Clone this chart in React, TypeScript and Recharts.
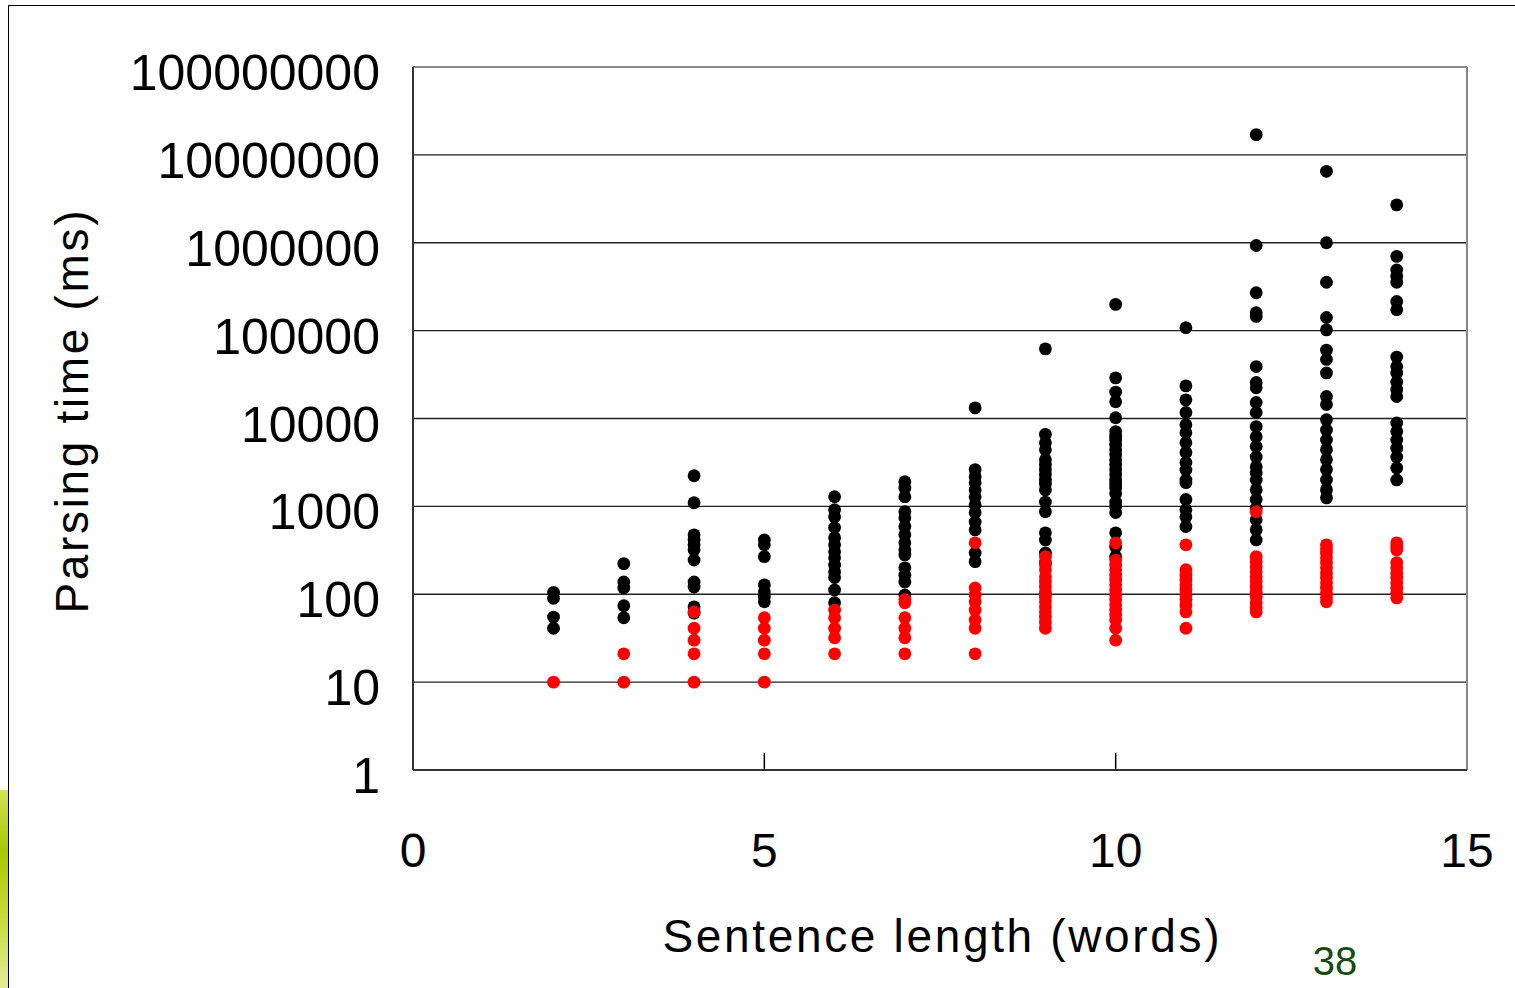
import React from "react";
import { CartesianGrid, ReferenceLine, Scatter, ScatterChart, XAxis, YAxis, ZAxis } from "recharts";

// sentence lengths (words) that have measurements
const lengths = [2, 3, 4, 5, 6, 7, 8, 9, 10, 11, 12, 13, 14];

// parsing time (ms), black dots, one list per sentence length
const baselineTimes: number[][] = [
  [105, 90, 55, 41],
  [223, 138, 118, 74, 54],
  [2230, 1100, 475, 415, 365, 320, 245, 138, 121, 72, 61],
  [415, 365, 268, 128, 107, 93, 82],
  [1290, 915, 760, 575, 440, 365, 305, 260, 215, 180, 155, 112, 80],
  [1910, 1620, 1290, 870, 740, 590, 475, 385, 320, 280, 200, 165, 138, 98],
  [13200, 2620, 2180, 1860, 1540, 1290, 1040, 850, 665, 540, 295, 235],
  [62000, 6600, 5300, 4400, 3400, 2620, 2000, 1540, 1120, 870, 500, 415, 295, 229, 3000, 2300, 1800],
  [199000, 29000, 20000, 15500, 10200, 7100, 6300, 5700, 5000, 4400, 3900, 3400, 3000, 2620, 2300, 2000, 1800, 1620, 1400, 1120, 1000, 850, 500, 345, 268],
  [108000, 23500, 16300, 11700, 8500, 6900, 5300, 4100, 3150, 2600, 2000, 1860, 1200, 915, 760, 590],
  [17000000, 930000, 270000, 160000, 145000, 39000, 25700, 22400, 15200, 11700, 8100, 6200, 4800, 3650, 2830, 2400, 2000, 1540, 1200, 950, 705, 540, 415],
  [6500000, 1000000, 355000, 141000, 102000, 60000, 47000, 33000, 17800, 14400, 9700, 7400, 5700, 4400, 3400, 2620, 2000, 1540, 1250],
  [2700000, 700000, 490000, 415000, 355000, 215000, 173000, 50000, 39000, 33000, 26000, 21300, 17800, 8900, 7100, 5700, 4600, 3650, 2740, 2000],
];

// parsing time (ms), red dots
const improvedTimes: number[][] = [
  [10],
  [21, 10],
  [63, 41, 30, 21, 10],
  [54, 41, 30, 21, 10],
  [66, 54, 41, 32, 21],
  [87, 80, 54, 41, 32, 21],
  [385, 118, 98, 82, 66, 51, 41, 21],
  [268, 220, 190, 158, 140, 121, 105, 93, 82, 72, 63, 55, 48, 41],
  [385, 245, 215, 190, 165, 145, 128, 112, 98, 87, 76, 66, 58, 51, 41, 30],
  [365, 190, 165, 145, 128, 112, 98, 87, 75, 63, 41],
  [870, 268, 235, 205, 180, 158, 140, 121, 105, 93, 80, 70, 63],
  [365, 330, 295, 260, 229, 200, 175, 155, 135, 118, 104, 92, 82],
  [385, 350, 320, 229, 200, 175, 155, 135, 118, 104, 91],
];

const xTicks = [0, 5, 10, 15];
const yTicks = [1, 10, 100, 1000, 10000, 100000, 1000000, 10000000, 100000000];

const FONT = "'Liberation Sans', Arial, sans-serif";

const toPoints = (lists: number[][]) =>
  lists.flatMap((times, i) => times.map((t) => ({ len: lengths[i], ms: t, s: 1 })));

const baselineData = toPoints(baselineTimes);
const improvedData = toPoints(improvedTimes);

function XTick({ x, y, payload }: any) {
  const v = payload.value;
  return (
    <g>
      {v > 0 && v < 15 && <line x1={x} x2={x} y1={y} y2={y - 17} stroke="#000" strokeWidth={1.5} />}
      <text x={x} y={y + 97} textAnchor="middle" fontSize={48} fontFamily={FONT} fill="#000">
        {v}
      </text>
    </g>
  );
}

function YTick({ x, y, payload }: any) {
  return (
    <text x={x} y={y + 23} textAnchor="end" fontSize={50} fontFamily={FONT} fill="#000">
      {String(payload.value)}
    </text>
  );
}

export default function App() {
  return (
    <div style={{ position: "absolute", left: 0, top: 0, width: 1515, height: 988, background: "#fff", overflow: "hidden" }}>
      <div
        style={{
          position: "absolute",
          left: 0,
          top: 790,
          width: 8,
          height: 198,
          background: "linear-gradient(to bottom, #d4e35a, #a6c700 30%, #c2d92e 60%, #e0ec9a)",
        }}
      />
      <div
        style={{
          position: "absolute",
          left: 8,
          top: 5,
          width: 1520,
          height: 1000,
          borderTop: "1.5px solid #000",
          borderLeft: "1.5px solid #000",
        }}
      />
      <div style={{ position: "absolute", left: 0, top: 0 }}>
        <ScatterChart width={1515} height={988} margin={{ top: 67, right: 48, bottom: 0, left: 0 }}>
          <CartesianGrid vertical={false} stroke="#222" strokeWidth={1.3} />
          <XAxis
            type="number"
            dataKey="len"
            domain={[0, 15]}
            ticks={xTicks}
            height={218}
            tickSize={0}
            tickMargin={0}
            tickLine={false}
            tick={<XTick />}
            axisLine={{ stroke: "#333", strokeWidth: 2 }}
          />
          <YAxis
            type="number"
            dataKey="ms"
            scale="log"
            domain={[1, 100000000]}
            allowDataOverflow
            ticks={yTicks}
            width={413}
            tickSize={0}
            tickMargin={33}
            tickLine={false}
            tick={<YTick />}
            axisLine={{ stroke: "#333", strokeWidth: 2 }}
          />
          <ZAxis type="number" dataKey="s" range={[129, 129]} />
          <ReferenceLine y={100000000} stroke="#888" strokeWidth={2} />
          <ReferenceLine x={15} stroke="#888" strokeWidth={2} />
          <Scatter name="baseline" data={baselineData} fill="#000" shape="circle" isAnimationActive={false} />
          <Scatter name="improved" data={improvedData} fill="#ff0000" shape="circle" isAnimationActive={false} />
          <text
            x={88}
            y={412}
            transform="rotate(-90, 88, 412)"
            textAnchor="middle"
            fontSize={46}
            fontFamily={FONT}
            fill="#000"
            textLength={403}
            lengthAdjust="spacing"
          >
            Parsing time (ms)
          </text>
          <text
            x={941}
            y={952}
            textAnchor="middle"
            fontSize={46}
            fontFamily={FONT}
            fill="#000"
            textLength={557}
            lengthAdjust="spacing"
          >
            Sentence length (words)
          </text>
          <text x={1335} y={975} textAnchor="middle" fontSize={40} fontFamily={FONT} fill="#1a4a14">
            38
          </text>
        </ScatterChart>
      </div>
    </div>
  );
}
